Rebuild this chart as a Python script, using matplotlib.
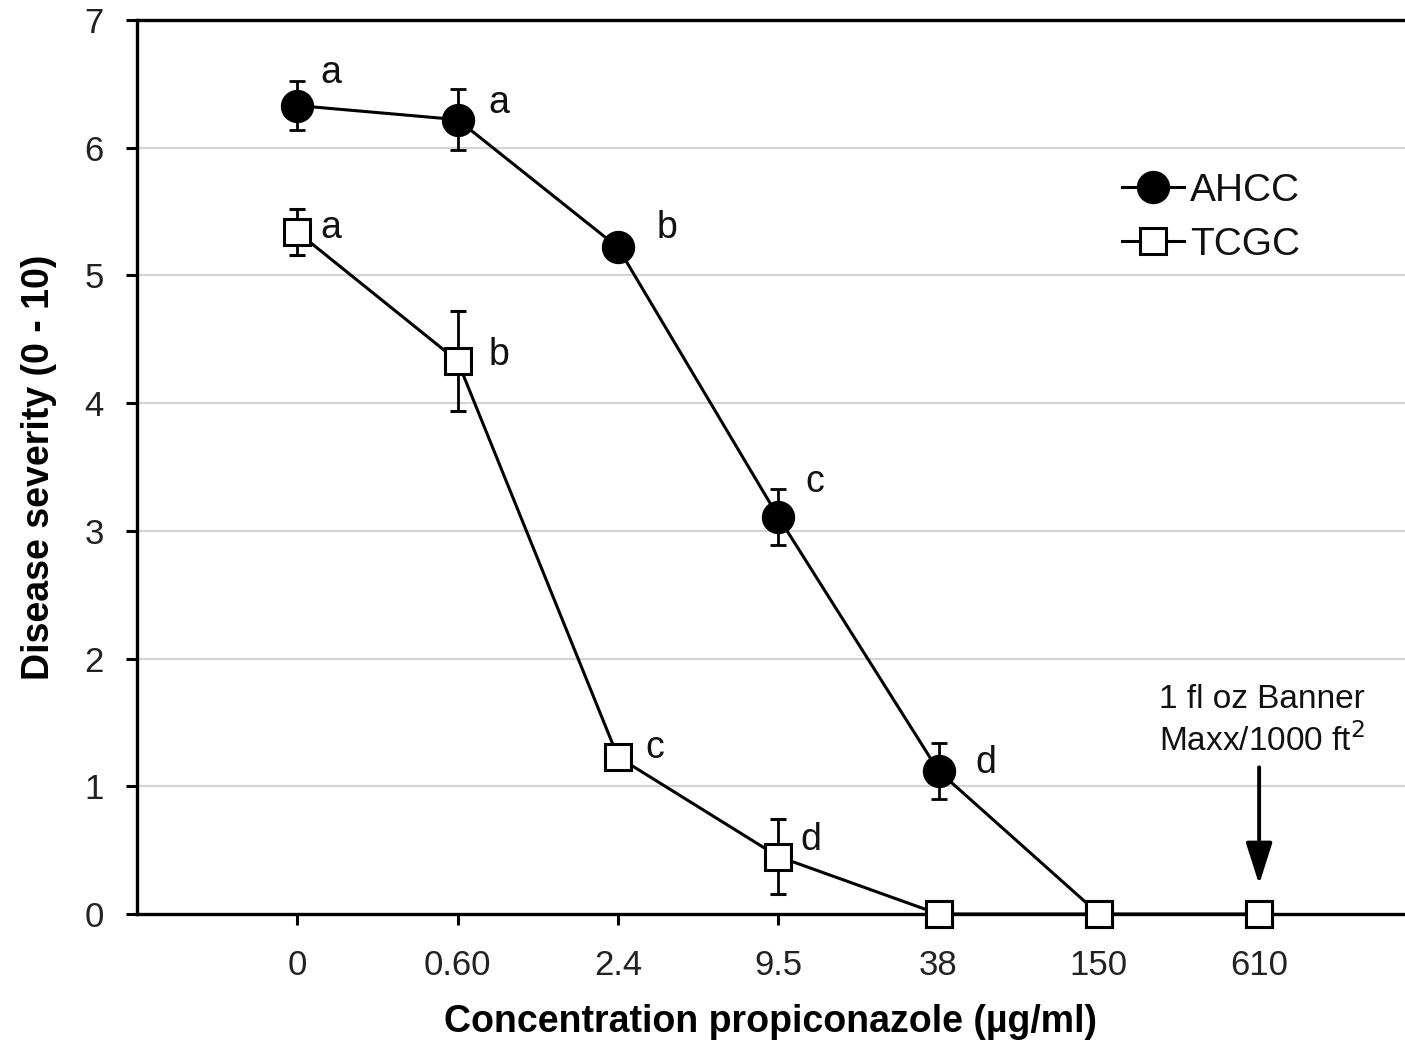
import matplotlib
matplotlib.use("Agg")
import matplotlib.pyplot as plt
from matplotlib.lines import Line2D
import numpy as np

plt.rcParams['font.family'] = ['Liberation Sans', 'DejaVu Sans']

conc_labels = ["0", "0.60", "2.4", "9.5", "38", "150", "610"]
ahcc = [6.33, 6.22, 5.22, 3.11, 1.12, 0.0, 0.0]
ahcc_err = [0.19, 0.24, 0.0, 0.22, 0.22, 0.0, 0.0]
tcgc = [5.34, 4.33, 1.23, 0.45, 0.0, 0.0, 0.0]
tcgc_err = [0.18, 0.39, 0.0, 0.29, 0.0, 0.0, 0.0]
ahcc_letters = ["a", "a", "b", "c", "d"]
tcgc_letters = ["a", "b", "c", "d"]
ahcc_offsets = [(34, 33), (41, 17), (49, 19), (37, 35), (47, 8)]
tcgc_offsets = [(34, 4), (41, 6), (37, 9), (33, 17)]

fig = plt.figure(figsize=(14.05, 10.49), dpi=100)
ax = fig.add_axes([137/1405, 1-914/1049, 1-137/1405, (914-20)/1049])

x = np.arange(len(conc_labels))

ax.set_ylim(0, 7)
ax.set_xlim(-1, 6.91)
ax.set_yticks(range(0, 8))
ax.set_xticks(x)
ax.set_xticklabels(conc_labels)
for yv in range(1, 7):
    ax.axhline(yv, color='#d4d4d4', lw=1.6, zorder=0)

ms_sq = 19
ms_ci = 23
ax.errorbar(x, tcgc, yerr=tcgc_err, color='black', lw=2.2, elinewidth=2.0,
            capsize=6, capthick=2.0, marker='s', markersize=ms_sq,
            markerfacecolor='white', markeredgecolor='black', markeredgewidth=2.2,
            zorder=3, clip_on=False)
ax.errorbar(x[:6], ahcc[:6], yerr=ahcc_err[:6], color='black', lw=2.2, elinewidth=2.0,
            capsize=6, capthick=2.0, marker='o', markersize=ms_ci,
            markerfacecolor='black', markeredgecolor='black',
            zorder=4, markevery=list(range(5)), clip_on=False)
ax.plot(x[4:], tcgc[4:], ls='none', marker='s', markersize=ms_sq,
        markerfacecolor='white', markeredgecolor='black', markeredgewidth=2.2,
        zorder=5, clip_on=False)

for i, (lab, off) in enumerate(zip(ahcc_letters, ahcc_offsets)):
    ax.annotate(lab, (x[i], ahcc[i]), xytext=off, textcoords='offset pixels',
                fontsize=27, ha='center', va='center', color='#111111')
for i, (lab, off) in enumerate(zip(tcgc_letters, tcgc_offsets)):
    ax.annotate(lab, (x[i], tcgc[i]), xytext=off, textcoords='offset pixels',
                fontsize=27, ha='center', va='center', color='#111111')

ax.annotate("", xy=(x[6], 0.21), xytext=(x[6], 1.17),
            arrowprops=dict(arrowstyle='-|>,head_length=0.85,head_width=0.27',
                            color='black', lw=2.8, mutation_scale=30))
ax.text(x[6] + 0.02, 1.51, "1 fl oz Banner\nMaxx/1000 ft$^2$", ha='center', va='center',
        fontsize=24, linespacing=1.3, color='#111111')

for s in ['left', 'bottom', 'top']:
    ax.spines[s].set_linewidth(2.4)
    ax.spines[s].set_color('black')
ax.spines['right'].set_visible(False)
ax.tick_params(axis='both', direction='out', length=8, width=2.2, labelsize=25,
               colors='black', labelcolor='#222222')
ax.tick_params(axis='x', pad=17)
ax.tick_params(axis='y', pad=16)

ax.set_xlabel("Concentration propiconazole (µg/ml)", fontsize=27, fontweight='bold', labelpad=16)
ax.set_ylabel("Disease severity (0 - 10)", fontsize=27, fontweight='bold', labelpad=20)

h_ahcc = Line2D([], [], color='black', lw=2.2, marker='o', markersize=ms_ci,
                markerfacecolor='black', markeredgecolor='black')
h_tcgc = Line2D([], [], color='black', lw=2.2, marker='s', markersize=ms_sq,
                markerfacecolor='white', markeredgecolor='black', markeredgewidth=2.2)
leg = ax.legend([h_ahcc, h_tcgc], ['AHCC', 'TCGC'],
                loc='upper left', bbox_to_anchor=(0.749, 0.868), frameon=False,
                fontsize=28, handlelength=1.6, handletextpad=0.15, labelspacing=0.45,
                markerscale=1.0)
for t in leg.get_texts():
    t.set_color('#111111')

fig.savefig("out.png", dpi=100)
